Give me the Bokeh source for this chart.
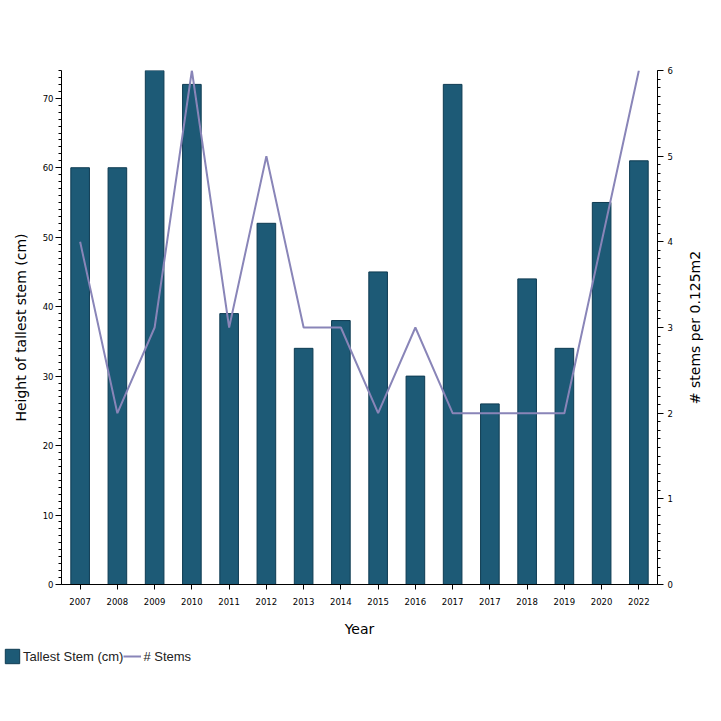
import math
from bokeh.plotting import figure
from bokeh.layouts import row, column
from bokeh.models import (Range1d, LinearAxis, FixedTicker, SingleIntervalTicker,
                          Legend, LegendItem, ColumnDataSource, Label)
from bokeh.embed import file_html
from bokeh.resources import INLINE

years = ["2007", "2008", "2009", "2010", "2011", "2012", "2013", "2014",
         "2015", "2016", "2017", "2017", "2018", "2019", "2020", "2022"]
tallest_stem = [60, 60, 74, 72, 39, 52, 34, 38, 45, 30, 72, 26, 44, 34, 55, 61]
num_stems = [4, 2, 3, 6, 3, 5, 3, 3, 2, 3, 2, 2, 2, 2, 4, 6]

pos = list(range(len(years)))
src = ColumnDataSource(dict(x=pos, h=tallest_stem, s=num_stems))

BAR = "#1d5a76"
BAR_LINE = "#0e3b52"
LINE = "#8985b8"
FONT = "DejaVu Sans"
LEGFONT = "Liberation Sans"
TICKFONT = "DejaVu Sans"

p = figure(frame_width=596, frame_height=514, output_backend="svg",
           toolbar_location=None,
           x_range=Range1d(-0.5, len(years) - 0.5), y_range=Range1d(0, 74),
           min_border_left=61, min_border_right=30, min_border_top=70,
           min_border_bottom=56, x_axis_location=None, y_axis_location=None)
p.extra_y_ranges = {"stems": Range1d(0, 6)}
p.outline_line_color = None
p.grid.visible = False

bar_style = dict(fill_color=BAR, line_color=BAR_LINE, line_width=1)
line_style = dict(line_color=LINE, line_width=2)

p.vbar(x="x", top="h", width=0.5, source=src, **bar_style)
p.line(x="x", y="s", source=src, y_range_name="stems", **line_style)

def style(ax):
    ax.axis_line_color = "black"
    ax.major_tick_line_color = "black"
    ax.minor_tick_line_color = "black"
    ax.major_tick_out = 6
    ax.major_tick_in = 0
    ax.minor_tick_out = 3
    ax.minor_tick_in = 0
    ax.major_label_text_font = TICKFONT
    ax.major_label_text_font_size = "8.5px"
    ax.major_label_text_color = "black"
    ax.axis_label_text_font = FONT
    ax.axis_label_text_font_size = "14px"
    ax.axis_label_text_font_style = "normal"
    ax.axis_label_text_color = "black"

xax = LinearAxis(ticker=FixedTicker(ticks=pos, minor_ticks=[]), axis_label="Year")
xax.major_label_overrides = {i: y for i, y in enumerate(years)}
style(xax)
xax.major_tick_out = 5
xax.major_label_standoff = 8
xax.axis_label_standoff = 13
p.add_layout(xax, "below")

lax = LinearAxis(ticker=SingleIntervalTicker(interval=10, num_minor_ticks=10),
                 axis_label="Height of tallest stem (cm)")
style(lax)
lax.major_label_standoff = 2
lax.axis_label_standoff = 11
p.add_layout(lax, "left")

rax = LinearAxis(y_range_name="stems",
                 ticker=SingleIntervalTicker(interval=1, num_minor_ticks=10))
style(rax)
rax.major_label_standoff = 4
p.add_layout(rax, "right")

# narrow companion figure carrying the right-hand axis title (reads bottom-to-top)
t = figure(frame_width=26, frame_height=514, output_backend="svg",
           toolbar_location=None, x_range=Range1d(0, 1), y_range=Range1d(0, 1),
           min_border_left=0, min_border_right=0, min_border_top=70,
           min_border_bottom=56, x_axis_location=None, y_axis_location=None)
t.outline_line_color = None
t.grid.visible = False
t.add_layout(Label(x=0.3, y=0.5, text="# stems per 0.125m2", angle=math.pi / 2,
                   text_align="center", text_baseline="middle", text_font=FONT,
                   text_font_size="14px", text_color="black"))

# legend strip below the chart; its swatch renderers share the data but their
# ranges keep the marks out of view, so only the legend swatches show
lf = figure(width=713, height=40, output_backend="svg", toolbar_location=None,
            x_range=Range1d(1000, 1001), y_range=Range1d(1000, 1001), min_border=0,
            x_axis_location=None, y_axis_location=None)
lf.outline_line_color = None
lf.grid.visible = False
sw_bar = lf.vbar(x="x", top="h", width=0.5, source=src, **bar_style)
sw_line = lf.line(x="x", y="s", source=src, **line_style)
legend = Legend(items=[LegendItem(label="Tallest Stem (cm)", renderers=[sw_bar]),
                       LegendItem(label="# Stems", renderers=[sw_line])],
                orientation="horizontal", location=(3, 15))
legend.border_line_color = None
legend.background_fill_alpha = 0
legend.padding = 0
legend.margin = 0
legend.spacing = 0
legend.glyph_width = 18
legend.glyph_height = 18
legend.label_standoff = 2
legend.label_text_font = LEGFONT
legend.label_text_font_size = "13px"
legend.label_text_color = "#222222"
lf.add_layout(legend, "center")

layout = column(row(p, t, spacing=0), lf, spacing=0)
open("out.html", "w").write(file_html(layout, INLINE))
